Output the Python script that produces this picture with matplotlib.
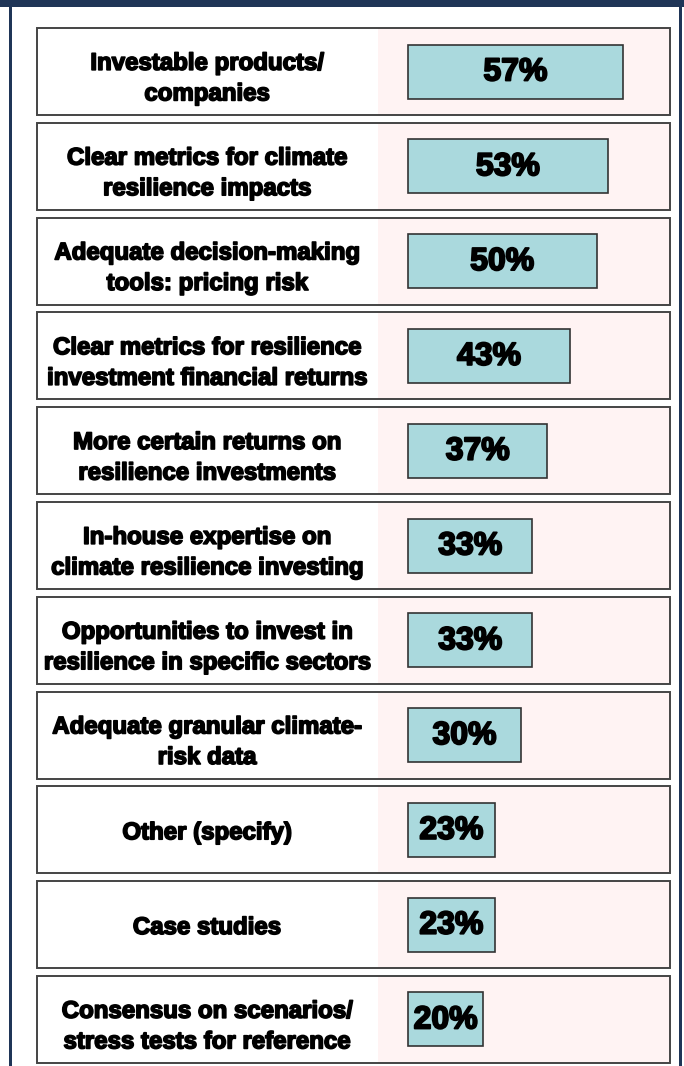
import matplotlib
matplotlib.use("Agg")
import matplotlib.pyplot as plt
from matplotlib.patches import Rectangle
import matplotlib.transforms as mtransforms
import matplotlib.patheffects as pe

labels = [
    "Investable products/\ncompanies",
    "Clear metrics for climate\nresilience impacts",
    "Adequate decision-making\ntools: pricing risk",
    "Clear metrics for resilience\ninvestment financial returns",
    "More certain returns on\nresilience investments",
    "In-house expertise on\nclimate resilience investing",
    "Opportunities to invest in\nresilience in specific sectors",
    "Adequate granular climate-\nrisk data",
    "Other (specify)",
    "Case studies",
    "Consensus on scenarios/\nstress tests for reference",
]
values = [57, 53, 50, 43, 37, 33, 33, 30, 23, 23, 20]
value_labels = ["57%", "53%", "50%", "43%", "37%", "33%", "33%", "30%", "23%", "23%", "20%"]

NAVY = "#1f3557"
PINK = "#fff3f3"
BAR = "#aad9dd"
EDGE = "#444444"
FONT = ["Liberation Sans", "DejaVu Sans"]

W, H = 684, 1066
fig = plt.figure(figsize=(W / 100, H / 100), dpi=100)
fig.patch.set_facecolor("white")

def fr(x0, y0, w, h, **kw):
    fig.patches.append(Rectangle((x0 / W, 1 - (y0 + h) / H), w / W, h / H,
                                 transform=fig.transFigure, **kw))

fr(0, 0, W, 6.5, facecolor=NAVY, edgecolor="none")
fr(8.5, 0, 3.2, H, facecolor=NAVY, edgecolor="none")
fr(678.5, 0, 3.2, H, facecolor=NAVY, edgecolor="none")

ax_left, ax_right = 36.5, 670.0
pitch = 94.8
box_h = 87.0
top_px = 28.0
n = len(values)
half = box_h / 2 / pitch
bottom_px = top_px + (n - 1) * pitch + box_h
ax = fig.add_axes([ax_left / W, 1 - bottom_px / H, (ax_right - ax_left) / W, (bottom_px - top_px) / H])
ax.set_ylim(n - 1 + half, -half)
px_per_pct = 3.77
zero_px = 408.0
ax.set_xlim(-(zero_px - ax_left) / px_per_pct, (ax_right - zero_px) / px_per_pct)
ax.axis("off")

trans = mtransforms.blended_transform_factory(ax.transAxes, ax.transData)
split = (377.5 - ax_left) / (ax_right - ax_left)
for i in range(n):
    y0 = i - half
    ax.add_patch(Rectangle((split, y0), 1 - split, 2 * half, transform=trans,
                           facecolor=PINK, edgecolor="none", zorder=1))
    ax.add_patch(Rectangle((0, y0), 1, 2 * half, transform=trans,
                           facecolor="none", edgecolor=EDGE, linewidth=1.4, zorder=3,
                           clip_on=False))

ys = list(range(n))
ax.barh(ys, values, left=0, height=54 / pitch, color=BAR, edgecolor="#333333",
        linewidth=1.2, zorder=2)

heavy = [pe.withStroke(linewidth=1.2, foreground="black")]
for i, (lab, v, vl) in enumerate(zip(labels, values, value_labels)):
    off = 0.075 if "\n" in lab else 0.03
    ax.text(0.5 * split, i + off, lab, transform=trans, ha="center", va="center",
            fontsize=17.3, fontweight="bold", family=FONT, linespacing=1.42,
            color="black", zorder=4, path_effects=heavy)
    ax.text(v / 2, i + 0.01, vl, ha="center", va="center", fontsize=23,
            fontweight="bold", family=FONT, color="black", zorder=4,
            path_effects=[pe.withStroke(linewidth=1.4, foreground="black")])

fig.savefig("out.png", dpi=100)
